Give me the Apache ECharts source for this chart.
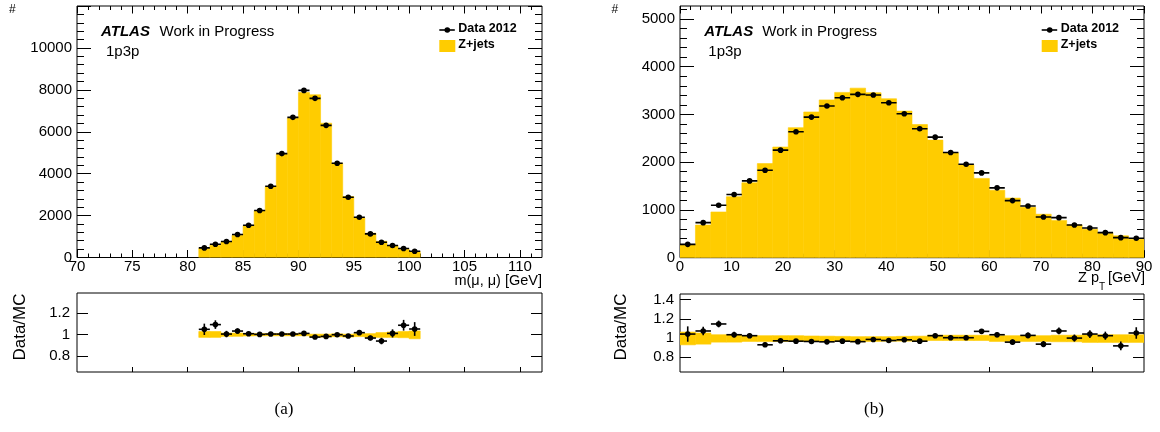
<!DOCTYPE html>
<html><head><meta charset="utf-8">
<script src="https://cdn.jsdelivr.net/npm/echarts@6/dist/echarts.min.js"></script>
<style>html,body{margin:0;padding:0;background:#fff}#c{width:1160px;height:432px}</style>
</head><body><div id="c"></div>
<script>
// ---------- DATA: panel (a) m(mu,mu) ----------
const massCenters = [81.5,82.5,83.5,84.5,85.5,86.5,87.5,88.5,89.5,90.5,91.5,92.5,93.5,94.5,95.5,96.5,97.5,98.5,99.5,100.5];
const massBinWidth = 1;
const massMC   = [436,580,757,1060,1526,2233,3378,4927,6647,7876,7764,6409,4495,2910,1885,1161,775,565,394,285];
const massData = [458,634,762,1096,1540,2240,3398,4957,6687,7974,7593,6306,4495,2874,1921,1125,729,572,429,300];
const massRatio    = [1.05,1.094,1.006,1.034,1.009,1.003,1.006,1.006,1.006,1.012,0.978,0.984,1.0,0.988,1.019,0.969,0.941,1.012,1.088,1.053];
const massRatioErr = [0.053,0.04,0.03,0.025,0.02,0.015,0.012,0.01,0.009,0.008,0.008,0.009,0.011,0.013,0.016,0.022,0.03,0.038,0.05,0.064];
const massBandLo = [0.975,0.975,0.985,0.985,0.988,0.99,0.99,0.99,0.99,0.99,0.978,0.978,0.982,0.978,0.982,0.975,0.975,0.975,0.972,0.962];
const massBandHi = [1.03,1.03,1.015,1.015,1.012,1.01,1.01,1.01,1.01,1.01,1.005,1.005,1.008,1.005,1.01,1.01,1.02,1.025,1.03,1.035];

// ---------- DATA: panel (b) Z pT ----------
const ptCenters = [1.5,4.5,7.5,10.5,13.5,16.5,19.5,22.5,25.5,28.5,31.5,34.5,37.5,40.5,43.5,46.5,49.5,52.5,55.5,58.5,61.5,64.5,67.5,70.5,73.5,76.5,79.5,82.5,85.5,88.5];
const ptBinWidth = 3;
const ptMC   = [269,683,957,1277,1569,1970,2317,2723,3051,3304,3461,3550,3454,3328,3069,2788,2462,2194,1950,1660,1413,1248,1054,910,781,685,597,511,457,386];
const ptData = [280,734,1098,1322,1608,1832,2252,2636,2944,3175,3350,3420,3406,3245,3014,2699,2524,2203,1958,1776,1462,1196,1084,853,839,685,622,524,420,406];
const ptRatio    = [1.042,1.074,1.147,1.035,1.025,0.930,0.972,0.968,0.965,0.961,0.968,0.963,0.986,0.975,0.982,0.968,1.025,1.004,1.004,1.070,1.035,0.958,1.028,0.937,1.074,1.0,1.042,1.025,0.919,1.053];
const ptRatioErr = [0.08,0.045,0.035,0.03,0.025,0.022,0.02,0.018,0.017,0.016,0.016,0.016,0.016,0.017,0.017,0.018,0.02,0.021,0.022,0.024,0.026,0.028,0.03,0.032,0.035,0.037,0.04,0.042,0.045,0.06];
const ptBandLo = [0.93,0.937,0.958,0.958,0.965,0.965,0.965,0.965,0.965,0.965,0.965,0.962,0.965,0.968,0.968,0.968,0.975,0.975,0.975,0.975,0.965,0.965,0.965,0.965,0.962,0.962,0.955,0.955,0.955,0.955];
const ptBandHi = [1.063,1.053,1.035,1.035,1.025,1.025,1.025,1.025,1.022,1.02,1.018,1.015,1.015,1.015,1.018,1.02,1.03,1.03,1.03,1.03,1.025,1.025,1.025,1.025,1.03,1.03,1.035,1.035,1.035,1.035];

// ---------- TICKS ----------
const massXTicks = [70,75,80,85,90,95,100,105,110];
const massXMinor = [71,72,73,74,76,77,78,79,81,82,83,84,86,87,88,89,91,92,93,94,96,97,98,99,101,102,103,104,106,107,108,109,111];
const massYTicks = [0,2000,4000,6000,8000,10000,12000];
const massYLabels = [0,2000,4000,6000,8000,10000];
const massYMinor = [400,800,1200,1600,2400,2800,3200,3600,4400,4800,5200,5600,6400,6800,7200,7600,8400,8800,9200,9600,10400,10800,11200,11600];
const ptXTicks = [0,10,20,30,40,50,60,70,80,90];
const ptXMinor = [2,4,6,8,12,14,16,18,22,24,26,28,32,34,36,38,42,44,46,48,52,54,56,58,62,64,66,68,72,74,76,78,82,84,86,88];
const ptYTicks = [0,1000,2000,3000,4000,5000];
const ptYMinor = [200,400,600,800,1200,1400,1600,1800,2200,2400,2600,2800,3200,3400,3600,3800,4200,4400,4600,4800,5200];
const ratioTicksA = [0.8,1,1.2];
const ratioTicksB = [0.8,1,1.2,1.4];
const massRatioXTicks = [75,80,85,90,95,100,105,110];
const ptRatioXTicks = [20,40,60,80];

const FONT = '"Liberation Sans", Arial, Helvetica, sans-serif';
const YELLOW = '#FFCC00';

const grids = [
  {left:77, top:6, width:465, height:251.5},
  {left:77, top:293, width:465, height:79},
  {left:680, top:6, width:464, height:251.7},
  {left:680, top:294, width:464, height:78}
].map(g => Object.assign(g, {show:true, borderColor:'#000', borderWidth:1, backgroundColor:'#fff', containLabel:false, outerBoundsMode:'none'}));

const xAxes = [], yAxes = [];
function axisBase(grid, min, max, pos){
  return {gridIndex:grid, type:'value', min, max, position:pos, splitLine:{show:false},
    axisLine:{show:false, onZero:false}, axisPointer:{show:false}};
}
function addAxis(list, grid, min, max, pos, ticks, len, labels, margin){
  const a = axisBase(grid, min, max, pos);
  a.axisTick = {show:true, inside:true, length:len, customValues:ticks, lineStyle:{color:'#000', width:1}};
  a.axisLabel = labels ? {show:true, customValues:labels, margin, color:'#000', fontFamily:FONT, fontSize:15,
                          formatter: v => String(v)}
                       : {show:false};
  list.push(a);
  return list.length - 1;
}

// grid 0 (mass main)
const x0 = addAxis(xAxes, 0, 70, 112, 'bottom', massXTicks, 7.5, massXTicks, 2);
addAxis(xAxes, 0, 70, 112, 'bottom', massXMinor, 4);
addAxis(xAxes, 0, 70, 112, 'top', massXTicks, 7.5);
addAxis(xAxes, 0, 70, 112, 'top', massXMinor, 4);
const y0 = addAxis(yAxes, 0, 0, 12000, 'left', massYTicks, 14, massYLabels, 5);
addAxis(yAxes, 0, 0, 12000, 'left', massYMinor, 7);
addAxis(yAxes, 0, 0, 12000, 'right', massYTicks, 14);
addAxis(yAxes, 0, 0, 12000, 'right', massYMinor, 7);
// grid 1 (mass ratio)
const x1 = addAxis(xAxes, 1, 70, 112, 'bottom', massRatioXTicks, 5);
const y1 = addAxis(yAxes, 1, 0.653, 1.388, 'left', ratioTicksA, 11, ratioTicksA, 7);
addAxis(yAxes, 1, 0.653, 1.388, 'right', ratioTicksA, 11);
// grid 2 (pt main)
const x2 = addAxis(xAxes, 2, 0, 90, 'bottom', ptXTicks, 7.5, ptXTicks, 2);
addAxis(xAxes, 2, 0, 90, 'bottom', ptXMinor, 4);
addAxis(xAxes, 2, 0, 90, 'top', ptXTicks, 7.5);
addAxis(xAxes, 2, 0, 90, 'top', ptXMinor, 4);
const y2 = addAxis(yAxes, 2, 0, 5270, 'left', ptYTicks, 14, ptYTicks, 5);
addAxis(yAxes, 2, 0, 5270, 'left', ptYMinor, 7);
addAxis(yAxes, 2, 0, 5270, 'right', ptYTicks, 14);
addAxis(yAxes, 2, 0, 5270, 'right', ptYMinor, 7);
// grid 3 (pt ratio)
const x3 = addAxis(xAxes, 3, 0, 90, 'bottom', ptRatioXTicks, 5);
const y3 = addAxis(yAxes, 3, 0.647, 1.459, 'left', ratioTicksB, 11, ratioTicksB, 6);
addAxis(yAxes, 3, 0.647, 1.459, 'right', ratioTicksB, 11);

function histSeries(xi, yi, centers, w, vals){
  return {type:'custom', xAxisIndex:xi, yAxisIndex:yi, z:2, silent:true, clip:true,
    data: centers.map((c,i)=>[c, vals[i]]),
    renderItem(p, api){
      const c = api.value(0), v = api.value(1);
      const a = api.coord([c - w/2, 0]), b = api.coord([c + w/2, v]);
      return {type:'rect', shape:{x:a[0], y:b[1], width:b[0]-a[0], height:a[1]-b[1]},
        style:{fill:YELLOW, stroke:YELLOW, lineWidth:0.6}};
    }};
}
function bandSeries(xi, yi, centers, w, lo, hi){
  return {type:'custom', xAxisIndex:xi, yAxisIndex:yi, z:2, silent:true, clip:true,
    data: centers.map((c,i)=>[c, lo[i], hi[i]]),
    renderItem(p, api){
      const c = api.value(0);
      const a = api.coord([c - w/2, api.value(1)]), b = api.coord([c + w/2, api.value(2)]);
      return {type:'rect', shape:{x:a[0], y:b[1], width:b[0]-a[0], height:a[1]-b[1]},
        style:{fill:YELLOW, stroke:YELLOW, lineWidth:0.6}};
    }};
}
function pointSeries(xi, yi, centers, w, vals, errs){
  return {type:'custom', xAxisIndex:xi, yAxisIndex:yi, z:5, silent:true, clip:true,
    data: centers.map((c,i)=>[c, vals[i], errs ? errs[i] : 0]),
    renderItem(p, api){
      const c = api.value(0), v = api.value(1), e = api.value(2);
      const pl = api.coord([c - w/2, v]), pr = api.coord([c + w/2, v]);
      const pc = api.coord([c, v]);
      const ch = [{type:'line', shape:{x1:pl[0], y1:pl[1], x2:pr[0], y2:pr[1]}, style:{stroke:'#000', lineWidth:1.6}}];
      if (e > 0) {
        const pt = api.coord([c, v + e]), pb = api.coord([c, v - e]);
        ch.push({type:'line', shape:{x1:pc[0], y1:pt[1], x2:pc[0], y2:pb[1]}, style:{stroke:'#000', lineWidth:1.6}});
      }
      ch.push({type:'circle', shape:{cx:pc[0], cy:pc[1], r:2.8}, style:{fill:'#000'}});
      return {type:'group', children:ch};
    }};
}

function txt(x, y, text, size, o){
  o = o || {};
  return {type:'text', x, y, rotation:o.rot || 0, silent:true, z:100,
    style:{text, fill:'#000', font:(o.style||'normal') + ' ' + (o.weight||'normal') + ' ' + size + 'px ' + (o.family||FONT),
      textAlign:o.align || 'left', textVerticalAlign:'middle'}};
}
function legend(x, tx){
  return [
    {type:'line', silent:true, z:100, shape:{x1:x, y1:30, x2:x+15.5, y2:30}, style:{stroke:'#000', lineWidth:1.6}},
    {type:'circle', silent:true, z:100, shape:{cx:x+8, cy:30, r:2.8}, style:{fill:'#000'}},
    {type:'rect', silent:true, z:100, shape:{x:x, y:40, width:16, height:12}, style:{fill:YELLOW}},
    txt(tx, 29, 'Data 2012', 12.5, {weight:'bold'}),
    txt(tx, 44.5, 'Z+jets', 12.5, {weight:'bold'})
  ];
}

const graphics = [
  txt(9, 10, '#', 12),
  txt(101, 32, 'ATLAS', 15, {style:'italic', weight:'bold'}),
  txt(159.5, 32, 'Work in Progress', 15),
  txt(106, 52, '1p3p', 15),
  ...legend(439.3, 458.3),
  txt(542, 281, 'm(\u03bc, \u03bc) [GeV]', 14.5, {align:'right'}),
  txt(20.5, 327, 'Data/MC', 17, {rot:Math.PI/2, align:'center'}),
  txt(284, 410, '(a)', 17, {family:'"Liberation Serif", "Times New Roman", serif', align:'center'}),

  txt(611.5, 10, '#', 12),
  txt(704.3, 32, 'ATLAS', 15, {style:'italic', weight:'bold'}),
  txt(762.3, 32, 'Work in Progress', 15),
  txt(708.3, 52, '1p3p', 15),
  ...legend(1041.7, 1060.7),
  txt(1078, 278, 'Z p', 14.5),
  txt(1099, 287, 'T', 10),
  txt(1145, 278, '[GeV]', 14.5, {align:'right'}),
  txt(621, 327, 'Data/MC', 17, {rot:Math.PI/2, align:'center'}),
  txt(874, 410, '(b)', 17, {family:'"Liberation Serif", "Times New Roman", serif', align:'center'})
];

const chart = echarts.init(document.getElementById('c'), null, {renderer:'canvas'});
chart.setOption({
  animation:false,
  backgroundColor:'#fff',
  grid: grids,
  xAxis: xAxes,
  yAxis: yAxes,
  graphic: graphics,
  series: [
    histSeries(x0, y0, massCenters, massBinWidth, massMC),
    pointSeries(x0, y0, massCenters, massBinWidth, massData, null),
    bandSeries(x1, y1, massCenters, massBinWidth, massBandLo, massBandHi),
    pointSeries(x1, y1, massCenters, massBinWidth, massRatio, massRatioErr),
    histSeries(x2, y2, ptCenters, ptBinWidth, ptMC),
    pointSeries(x2, y2, ptCenters, ptBinWidth, ptData, null),
    bandSeries(x3, y3, ptCenters, ptBinWidth, ptBandLo, ptBandHi),
    pointSeries(x3, y3, ptCenters, ptBinWidth, ptRatio, ptRatioErr)
  ]
});
</script></body></html>
